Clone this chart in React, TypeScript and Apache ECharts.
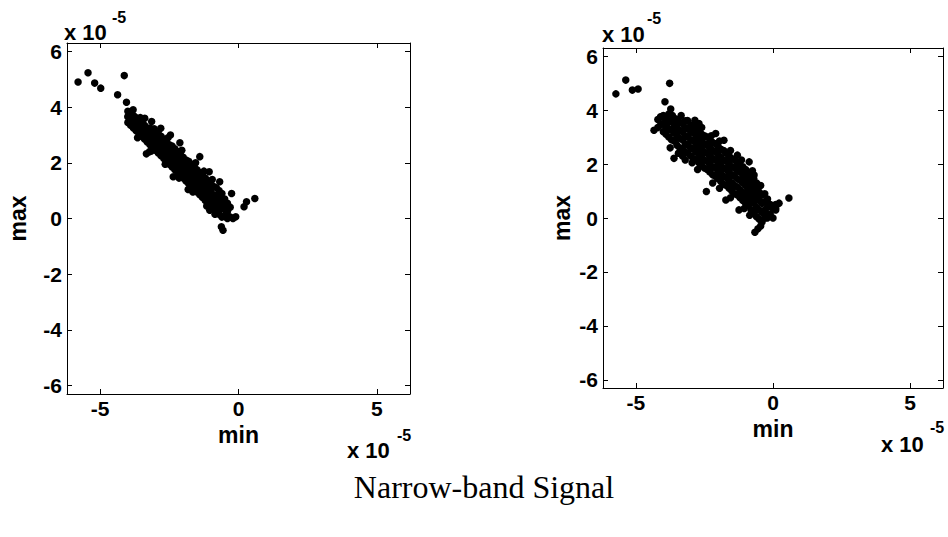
import React, { useEffect, useRef } from "react";
import * as echarts from "echarts";

const xTicks = [-5, 0, 5];
const yTicks = [-6, -4, -2, 0, 2, 4, 6];
const titleText = "Narrow-band Signal";
const xName = "min";
const yName = "max";
const exponentBase = "x 10";
const exponentPower = "-5";

// values in units of 1e-5
const leftPoints: number[][] = [
  [-5.8, 4.9], [-5.44, 5.23], [-5.2, 4.86], [-4.98, 4.68], [-4.13, 5.13], [-4.37, 4.44], [-4.05, 4.17],
  [-3.33, 2.32], [-3.22, 2.4], [-2.36, 1.5], [-1.82, 1.04], [-1.4, 2.22], [-1.06, 1.68], [-2.12, 2.72],
  [-2.46, 3.0], [-2.81, 3.24], [-3.14, 3.48], [-3.39, 3.6], [-3.81, 3.9], [-3.99, 3.66],
  [0.59, 0.72], [0.29, 0.6], [0.2, 0.42], [-0.56, -0.42], [-0.62, -0.3], [-0.25, 0.9], [-0.68, 1.32],
  [-1.04, 0.3], [-0.43, 0.2], [-0.2, 0.0], [-0.1, 0.06], [-0.74, 0.8],
  [-4.0, 3.45], [-4.0, 3.65], [-4.0, 3.85],
  [-3.9, 3.35], [-3.9, 3.6], [-3.9, 3.8],
  [-3.8, 3.25], [-3.8, 3.45], [-3.8, 3.7],
  [-3.7, 3.15], [-3.7, 3.4], [-3.7, 3.62],
  [-3.6, 3.05], [-3.6, 3.3], [-3.6, 3.55],
  [-3.5, 2.95], [-3.5, 3.2], [-3.5, 3.45],
  [-3.4, 2.85], [-3.4, 3.1], [-3.4, 3.35],
  [-3.3, 2.75], [-3.3, 3.0], [-3.3, 3.25],
  [-3.2, 2.65], [-3.2, 2.9], [-3.2, 3.15], [-3.2, 3.25],
  [-3.1, 2.55], [-3.1, 2.8], [-3.1, 3.05],
  [-3.0, 2.45], [-3.0, 2.7], [-3.0, 2.95], [-3.0, 3.1],
  [-2.9, 2.35], [-2.9, 2.6], [-2.9, 2.85], [-2.9, 3.05],
  [-2.8, 2.25], [-2.8, 2.5], [-2.8, 2.75], [-2.8, 2.95],
  [-2.7, 2.15], [-2.7, 2.4], [-2.7, 2.65], [-2.7, 2.85],
  [-2.6, 2.05], [-2.6, 2.3], [-2.6, 2.55], [-2.6, 2.75],
  [-2.5, 1.95], [-2.5, 2.2], [-2.5, 2.45], [-2.5, 2.65],
  [-2.4, 1.85], [-2.4, 2.1], [-2.4, 2.35], [-2.4, 2.6],
  [-2.3, 1.75], [-2.3, 2.0], [-2.3, 2.25], [-2.3, 2.5],
  [-2.2, 1.65], [-2.2, 1.9], [-2.2, 2.15], [-2.2, 2.4],
  [-2.1, 1.55], [-2.1, 1.8], [-2.1, 2.05], [-2.1, 2.3],
  [-2.0, 1.45], [-2.0, 1.7], [-2.0, 1.95], [-2.0, 2.2],
  [-1.9, 1.35], [-1.9, 1.6], [-1.9, 1.85], [-1.9, 2.1],
  [-1.8, 1.25], [-1.8, 1.5], [-1.8, 1.75], [-1.8, 2.05],
  [-1.7, 1.15], [-1.7, 1.4], [-1.7, 1.65], [-1.7, 1.95],
  [-1.6, 1.05], [-1.6, 1.3], [-1.6, 1.55], [-1.6, 1.85],
  [-1.5, 0.95], [-1.5, 1.2], [-1.5, 1.45], [-1.5, 1.75],
  [-1.4, 0.85], [-1.4, 1.1], [-1.4, 1.35], [-1.4, 1.65],
  [-1.3, 0.75], [-1.3, 1.0], [-1.3, 1.25], [-1.3, 1.55],
  [-1.2, 0.65], [-1.2, 0.9], [-1.2, 1.15], [-1.2, 1.45],
  [-1.1, 0.55], [-1.1, 0.8], [-1.1, 1.05], [-1.1, 1.35],
  [-1.0, 0.45], [-1.0, 0.7], [-1.0, 0.95], [-1.0, 1.25],
  [-0.9, 0.35], [-0.9, 0.6], [-0.9, 0.85], [-0.9, 1.15],
  [-0.8, 0.25], [-0.8, 0.5], [-0.8, 0.8], [-0.8, 1.1],
  [-0.7, 0.15], [-0.7, 0.45], [-0.7, 0.7], [-0.7, 1.0],
  [-0.6, 0.05], [-0.6, 0.35], [-0.6, 0.6], [-0.6, 0.9],
  [-0.5, 0.1], [-0.5, 0.4], [-0.5, 0.7],
  [-0.4, 0.0], [-0.4, 0.25], [-0.4, 0.55],
  [-0.3, 0.05], [-0.3, 0.4],
  [-3.55, 3.62], [-3.05, 3.22], [-2.55, 2.9], [-2.05, 2.45], [-1.55, 2.0], [-1.25, 1.7], [-0.95, 1.4],
  [-3.65, 2.9], [-3.15, 2.42], [-2.65, 1.95], [-2.15, 1.45], [-1.65, 0.95], [-1.15, 0.45], [-0.85, 0.15],
];

const rightPoints: number[][] = [
  [-5.73, 4.6], [-5.37, 5.11], [-5.13, 4.74], [-4.92, 4.78], [-3.77, 4.99], [-3.94, 4.31], [-3.73, 4.04],
  [-3.67, 3.8], [-4.34, 3.25], [-4.09, 3.74], [0.58, 0.74], [-0.66, -0.53], [-0.55, -0.4], [-0.21, 0.0],
  [0.22, 0.55], [0.1, 0.37], [-2.43, 0.98], [-1.72, 0.67], [-1.24, 0.3], [-3.61, 2.21], [-3.45, 2.4],
  [-1.3, 2.33], [-0.87, 2.08], [-0.69, 1.59], [-1.79, 2.88], [-2.09, 3.13], [-3.12, 3.61], [-2.7, 3.5],
  [-2.85, 3.62], [-3.3, 2.3], [-2.95, 2.05],
  [-3.35, 3.8], [-2.6, 3.35], [-2.25, 3.05], [-1.95, 2.85], [-1.55, 2.5], [-1.15, 2.15], [-0.75, 1.75],
  [-0.45, 1.2], [-3.75, 2.6], [-3.2, 2.15], [-2.75, 1.8], [-2.2, 1.3], [-1.95, 1.1], [-1.55, 0.75],
  [-1.05, 0.35], [-0.85, 0.1], [-0.45, -0.3],
  [-4.2, 3.35], [-4.2, 3.65],
  [-4.1, 3.45], [-4.1, 3.75],
  [-4.0, 3.2], [-4.0, 3.5], [-4.0, 3.8],
  [-3.9, 3.1], [-3.9, 3.4], [-3.9, 3.7],
  [-3.8, 3.0], [-3.8, 3.3], [-3.8, 3.55], [-3.8, 3.85],
  [-3.7, 2.9], [-3.7, 3.25], [-3.7, 3.6],
  [-3.6, 2.85], [-3.6, 3.15], [-3.6, 3.45], [-3.6, 3.7],
  [-3.5, 2.7], [-3.5, 3.05], [-3.5, 3.35], [-3.5, 3.65],
  [-3.4, 2.6], [-3.4, 2.95], [-3.4, 3.25], [-3.4, 3.55],
  [-3.3, 2.55], [-3.3, 2.9], [-3.3, 3.2], [-3.3, 3.5],
  [-3.2, 2.45], [-3.2, 2.75], [-3.2, 3.05], [-3.2, 3.35], [-3.2, 3.6],
  [-3.1, 2.4], [-3.1, 2.7], [-3.1, 3.0], [-3.1, 3.3],
  [-3.0, 2.3], [-3.0, 2.6], [-3.0, 2.9], [-3.0, 3.2], [-3.0, 3.45],
  [-2.9, 2.2], [-2.9, 2.55], [-2.9, 2.85], [-2.9, 3.15], [-2.9, 3.4],
  [-2.8, 2.15], [-2.8, 2.45], [-2.8, 2.75], [-2.8, 3.05], [-2.8, 3.35],
  [-2.7, 2.05], [-2.7, 2.35], [-2.7, 2.65], [-2.7, 2.95], [-2.7, 3.25],
  [-2.6, 1.95], [-2.6, 2.25], [-2.6, 2.55], [-2.6, 2.85], [-2.6, 3.1],
  [-2.5, 1.85], [-2.5, 2.15], [-2.5, 2.45], [-2.5, 2.75], [-2.5, 3.05],
  [-2.4, 1.8], [-2.4, 2.1], [-2.4, 2.4], [-2.4, 2.7], [-2.4, 3.0],
  [-2.3, 1.7], [-2.3, 2.0], [-2.3, 2.3], [-2.3, 2.6], [-2.3, 2.9],
  [-2.2, 1.6], [-2.2, 1.9], [-2.2, 2.2], [-2.2, 2.5], [-2.2, 2.8],
  [-2.1, 1.55], [-2.1, 1.85], [-2.1, 2.15], [-2.1, 2.45], [-2.1, 2.75],
  [-2.0, 1.45], [-2.0, 1.75], [-2.0, 2.05], [-2.0, 2.35], [-2.0, 2.65],
  [-1.9, 1.35], [-1.9, 1.65], [-1.9, 1.95], [-1.9, 2.25], [-1.9, 2.55],
  [-1.8, 1.25], [-1.8, 1.55], [-1.8, 1.85], [-1.8, 2.15], [-1.8, 2.5],
  [-1.7, 1.2], [-1.7, 1.5], [-1.7, 1.8], [-1.7, 2.1], [-1.7, 2.4],
  [-1.6, 1.1], [-1.6, 1.4], [-1.6, 1.7], [-1.6, 2.0], [-1.6, 2.3],
  [-1.5, 1.0], [-1.5, 1.3], [-1.5, 1.6], [-1.5, 1.9], [-1.5, 2.2],
  [-1.4, 0.9], [-1.4, 1.2], [-1.4, 1.55], [-1.4, 1.85], [-1.4, 2.15],
  [-1.3, 0.85], [-1.3, 1.15], [-1.3, 1.45], [-1.3, 1.75], [-1.3, 2.05],
  [-1.2, 0.75], [-1.2, 1.05], [-1.2, 1.4], [-1.2, 1.7], [-1.2, 1.95],
  [-1.1, 0.65], [-1.1, 0.95], [-1.1, 1.3], [-1.1, 1.6], [-1.1, 1.9],
  [-1.0, 0.55], [-1.0, 0.85], [-1.0, 1.2], [-1.0, 1.5], [-1.0, 1.8],
  [-0.9, 0.45], [-0.9, 0.75], [-0.9, 1.05], [-0.9, 1.4], [-0.9, 1.7],
  [-0.8, 0.3], [-0.8, 0.65], [-0.8, 0.95], [-0.8, 1.25], [-0.8, 1.55],
  [-0.7, 0.2], [-0.7, 0.55], [-0.7, 0.85], [-0.7, 1.15], [-0.7, 1.45],
  [-0.6, 0.05], [-0.6, 0.4], [-0.6, 0.75], [-0.6, 1.05], [-0.6, 1.3],
  [-0.5, -0.05], [-0.5, 0.3], [-0.5, 0.65], [-0.5, 0.95], [-0.5, 1.2],
  [-0.4, -0.15], [-0.4, 0.2], [-0.4, 0.55], [-0.4, 0.85],
  [-0.3, 0.0], [-0.3, 0.3], [-0.3, 0.6], [-0.3, 0.9],
  [-0.2, 0.1], [-0.2, 0.4], [-0.2, 0.7],
  [-0.1, 0.15], [-0.1, 0.5],
  [0.0, 0.0], [0.0, 0.35],
  [0.1, 0.3], [0.1, 0.5],
];

const SANS = "'Liberation Sans', Arial, Helvetica, sans-serif";
const SERIF = "'Liberation Serif', 'Times New Roman', serif";

const grids = [
  { left: 67, top: 43, width: 343, height: 351, yGap: 38 },
  { left: 603, top: 48, width: 340, height: 340, yGap: 30 },
];

const tickStyle = { color: "#000", fontSize: 21, fontFamily: SANS, fontWeight: "bold" as const };
const nameStyle = { color: "#000", fontSize: 23, fontFamily: SANS, fontWeight: "bold" as const };

function buildAxes(gi: number, yGap: number) {
  const line = { show: true, onZero: false, lineStyle: { color: "#000", width: 1 } };
  const xBottom = {
    gridIndex: gi, type: "value", min: -6.2, max: 6.2, position: "bottom",
    axisLine: line,
    axisTick: { show: true, inside: true, length: 5, customValues: xTicks, lineStyle: { color: "#000" } },
    axisLabel: { ...tickStyle, margin: 4, customValues: xTicks },
    splitLine: { show: false },
    name: xName, nameLocation: "middle", nameGap: 28,
    nameTextStyle: { ...nameStyle },
  };
  const xTop = {
    gridIndex: gi, type: "value", min: -6.2, max: 6.2, position: "top",
    axisLine: line,
    axisTick: { show: true, inside: true, length: 5, customValues: xTicks, lineStyle: { color: "#000" } },
    axisLabel: { show: false },
    splitLine: { show: false },
  };
  const yLeft = {
    gridIndex: gi, type: "value", min: -6.3, max: 6.3, position: "left",
    axisLine: line,
    axisTick: { show: true, inside: true, length: 5, customValues: yTicks, lineStyle: { color: "#000" } },
    axisLabel: { ...tickStyle, margin: 5, customValues: yTicks },
    splitLine: { show: false },
    name: yName, nameLocation: "middle", nameGap: yGap, nameRotate: 90,
    nameTextStyle: { ...nameStyle },
  };
  const yRight = {
    gridIndex: gi, type: "value", min: -6.3, max: 6.3, position: "right",
    axisLine: line,
    axisTick: { show: true, inside: true, length: 5, customValues: yTicks, lineStyle: { color: "#000" } },
    axisLabel: { show: false },
    splitLine: { show: false },
  };
  return { x: [xBottom, xTop], y: [yLeft, yRight] };
}

export default function App() {
  const ref = useRef<HTMLDivElement>(null);
  useEffect(() => {
    if (!ref.current) return;
    const chart = echarts.init(ref.current, null, { renderer: "svg" });
    const a0 = buildAxes(0, grids[0].yGap);
    const a1 = buildAxes(1, grids[1].yGap);
    const exps = [
      [64, 21, 112, 9],
      [602, 23, 647, 10],
      [347, 439, 397, 427],
      [881, 433, 930, 419],
    ];
    const graphic: any[] = [];
    exps.forEach(([bx, by, px, py]) => {
      graphic.push({ type: "text", x: bx, y: by, style: { text: exponentBase, fill: "#000", font: `bold 22px ${SANS}` } });
      graphic.push({ type: "text", x: px, y: py, style: { text: exponentPower, fill: "#000", font: `bold 16px ${SANS}` } });
    });
    graphic.push({
      type: "text", x: 484, y: 487,
      style: { text: titleText, fill: "#000", font: `32px ${SERIF}`, textAlign: "center", textVerticalAlign: "middle" },
    });
    chart.setOption({
      animation: false,
      backgroundColor: "#fff",
      grid: grids.map((g) => ({ left: g.left, top: g.top, width: g.width, height: g.height, containLabel: false })),
      xAxis: [...a0.x, ...a1.x],
      yAxis: [...a0.y, ...a1.y],
      series: [
        { type: "scatter", xAxisIndex: 0, yAxisIndex: 0, data: leftPoints, symbolSize: 7.5, itemStyle: { color: "#000", opacity: 1 }, silent: true },
        { type: "scatter", xAxisIndex: 2, yAxisIndex: 2, data: rightPoints, symbolSize: 7.5, itemStyle: { color: "#000", opacity: 1 }, silent: true },
      ],
      graphic,
    });
    return () => chart.dispose();
  }, []);
  return <div ref={ref} style={{ position: "absolute", left: 0, top: 0, width: 948, height: 537, background: "#fff" }} />;
}
